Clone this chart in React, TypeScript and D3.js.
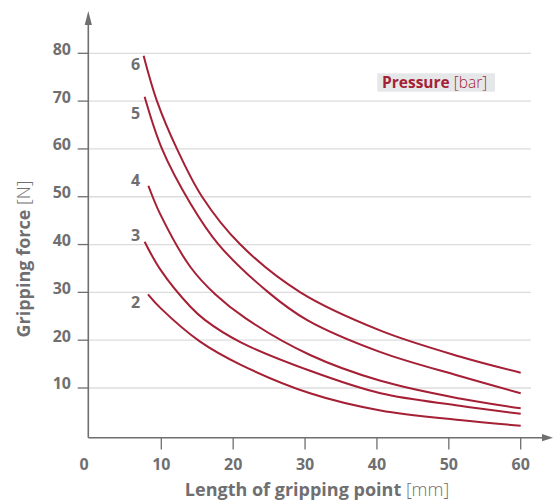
import React from "react";
import * as d3 from "d3";

const xTicks = [10, 20, 30, 40, 50, 60];
const yTicks = [10, 20, 30, 40, 50, 60, 70, 80];

const pressures = ["2", "3", "4", "5", "6"];

const len6 = [7.54, 9.4, 12.18, 15.67, 21.0, 29.35, 40.5, 51.5, 60];
const force6 = [79.5, 70.0, 60.0, 50.0, 40.0, 30.0, 22.0, 16.6, 13.2];

const len5 = [7.68, 10.1, 14.05, 17.98, 24.9, 30.3, 40.5, 51.5, 60];
const force5 = [70.9, 60.0, 48.6, 40.0, 30.0, 24.2, 17.5, 12.5, 8.9];

const len4 = [8.2, 9.9, 14.05, 17.5, 21.7, 30.7, 40.5, 51.5, 60];
const force4 = [52.3, 46.2, 35.3, 29.6, 24.6, 16.9, 11.5, 7.8, 5.75];

const len3 = [7.68, 9.9, 14.05, 16.1, 21.0, 30.7, 40.5, 51.5, 60];
const force3 = [40.6, 34.7, 27.0, 24.2, 19.6, 13.6, 8.9, 6.3, 4.6];

const len2 = [8.15, 9.9, 15.4, 21.0, 30.7, 40.5, 51.5, 60];
const force2 = [29.6, 26.7, 19.7, 14.9, 8.9, 5.3, 3.3, 2.1];

// force level (in N) at which each pressure label sits
const labelForce = [28.0, 42.0, 53.4, 67.5, 77.8];

const seriesLen = [len2, len3, len4, len5, len6];
const seriesForce = [force2, force3, force4, force5, force6];

const AXIS = "#6f6f71";
const GRID = "#dcdcdc";
const RED = "#a51f35";
const FONT = "'Open Sans', sans-serif";

export default function App() {
  const x = d3.scaleLinear().domain([10, 60]).range([161.3, 520.7]);
  const y = d3.scaleLinear().domain([10, 80]).range([388, 53.3]);
  const axisY = 437.7;
  const axisX = 88.3;

  const line = d3
    .line<[number, number]>()
    .x((d) => x(d[0]))
    .y((d) => y(d[1]))
    .curve(d3.curveCatmullRom.alpha(0.5));

  return (
    <svg
      width={553}
      height={504}
      style={{ position: "absolute", left: 0, top: 0, background: "#fff" }}
      fontFamily={FONT}
    >
      {/* gridlines */}
      {yTicks.map((t) => (
        <line key={"g" + t} x1={axisX} x2={531} y1={y(t)} y2={y(t)} stroke={GRID} strokeWidth={1.3} />
      ))}
      {/* y ticks + labels */}
      {yTicks.map((t) => (
        <g key={"yt" + t}>
          <line x1={77.7} x2={axisX} y1={y(t)} y2={y(t)} stroke={AXIS} strokeWidth={1.3} />
          <text x={71} y={y(t) + 1.4} textAnchor="end" fontSize={16} fontWeight={700} fill={AXIS}>
            {t}
          </text>
        </g>
      ))}
      {/* x ticks + labels */}
      {xTicks.map((t) => (
        <g key={"xt" + t}>
          <line x1={x(t)} x2={x(t)} y1={axisY} y2={449.5} stroke={AXIS} strokeWidth={1.3} />
          <text x={x(t)} y={470} textAnchor="middle" fontSize={16} fontWeight={700} fill={AXIS}>
            {t}
          </text>
        </g>
      ))}
      <text x={84} y={470} textAnchor="middle" fontSize={16} fontWeight={700} fill={AXIS}>
        0
      </text>
      {/* axes */}
      <line x1={axisX} x2={axisX} y1={axisY} y2={22} stroke={AXIS} strokeWidth={1.6} />
      <path d={`M${axisX - 3.6},25 L${axisX},11 L${axisX + 3.6},25 Z`} fill={AXIS} />
      <line x1={axisX} x2={545} y1={axisY} y2={axisY} stroke={AXIS} strokeWidth={1.6} />
      <path d={`M542,${axisY - 3.6} L553,${axisY} L542,${axisY + 3.6} Z`} fill={AXIS} />

      {/* curves */}
      {pressures.map((p, i) => {
        const pts = seriesLen[i].map((l, j) => [l, seriesForce[i][j]] as [number, number]);
        return <path key={"c" + p} d={line(pts) || ""} fill="none" stroke={RED} strokeWidth={2} />;
      })}
      {/* curve labels */}
      {pressures.map((p, i) => (
        <text
          key={"l" + p}
          x={135.5}
          y={y(labelForce[i]) + 5.7}
          textAnchor="middle"
          fontSize={16}
          fontWeight={700}
          fill={AXIS}
        >
          {p}
        </text>
      ))}

      {/* legend */}
      <rect x={377.3} y={73.3} width={117.7} height={18.4} fill="#e6e7e8" />
      <text x={382} y={88} fontSize={15.5} fill={RED}>
        <tspan fontWeight={700}>Pressure</tspan>
        <tspan fontWeight={300}> [bar]</tspan>
      </text>

      {/* axis titles */}
      <text x={317} y={496} textAnchor="middle" fontSize={18} fill={AXIS}>
        <tspan fontWeight={700}>Length of gripping point</tspan>
        <tspan fontWeight={300}> [mm]</tspan>
      </text>
      <text transform="translate(30,259) rotate(-90)" textAnchor="middle" fontSize={18} fill={AXIS}>
        <tspan fontWeight={700}>Gripping force</tspan>
        <tspan fontWeight={300}> [N]</tspan>
      </text>
    </svg>
  );
}
